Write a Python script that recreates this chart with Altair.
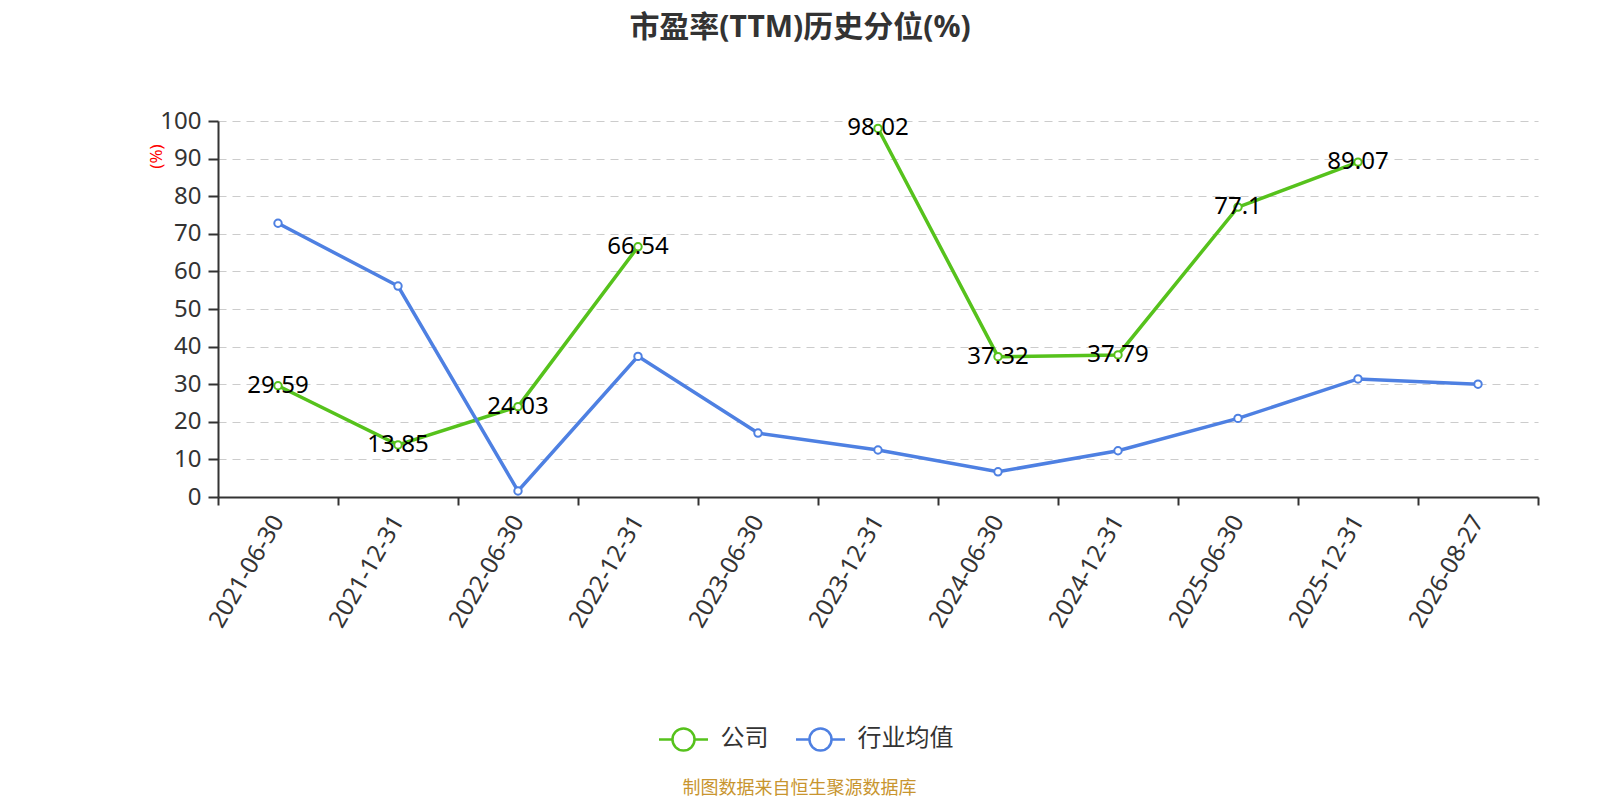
import altair as alt
import pandas as pd

dates = ["2021-06-30", "2021-12-31", "2022-06-30", "2022-12-31", "2023-06-30",
         "2023-12-31", "2024-06-30", "2024-12-31", "2025-06-30", "2025-12-31",
         "2026-08-27"]
company = [29.59, 13.85, 24.03, 66.54, None, 98.02, 37.32, 37.79, 77.1, 89.07, None]
industry = [72.8, 56.1, 1.6, 37.4, 17.0, 12.5, 6.7, 12.3, 20.9, 31.4, 30.0]
series_names = ["公司", "行业均值"]
colors = ["#56C21C", "#4E80E2"]
title_text = "市盈率(TTM)历史分位(%)"
source_text = "制图数据来自恒生聚源数据库"
y_ticks = [0, 10, 20, 30, 40, 50, 60, 70, 80, 90, 100]

rows = []
for d, c, i in zip(dates, company, industry):
    rows.append({"date": d, "series": series_names[0], "value": c})
    rows.append({"date": d, "series": series_names[1], "value": i})
df = pd.DataFrame(rows)

FONT = "Noto Sans, Noto Sans CJK SC, sans-serif"
SYMBOL = ("M-1,0L-0.45,0M0.45,0L1,0"
          "M-0.45,0A0.45,0.45 0 1,1 0.45,0A0.45,0.45 0 1,1 -0.45,0Z")

legend = alt.Legend(
    title=None, orient="none", direction="horizontal",
    legendX=439.5, legendY=592,
    symbolType=SYMBOL, symbolSize=2401, symbolStrokeWidth=2.5,
    symbolFillColor="white",
    labelFontSize=24, labelFont=FONT, labelColor="#333333",
    labelOffset=11, columnPadding=22, padding=0,
)

color_scale = alt.Scale(domain=series_names, range=colors)

x_enc = alt.X(
    "date:N", sort=dates,
    scale=alt.Scale(type="band", domain=dates, paddingInner=0, paddingOuter=0),
    axis=alt.Axis(
        title=None, tickBand="extent", labelAngle=-60, labelAlign="right",
        labelBaseline="middle", labelPadding=12, tickSize=8, labelFontSize=24,
        labelFont=FONT, labelColor="#333333", domainColor="#333333",
        tickColor="#333333", domainWidth=2, tickWidth=2, grid=False,
    ),
)
y_enc = alt.Y(
    "value:Q",
    scale=alt.Scale(domain=[0, 100], nice=False, zero=True),
    axis=alt.Axis(
        title="(%)", titleColor="red", titleFontSize=17, titleFont=FONT,
        titleFontWeight="normal", titleAngle=-90, titleX=-62, titleY=35,
        titleAlign="center", titleBaseline="middle",
        values=y_ticks, tickSize=10, labelPadding=7, labelFontSize=24,
        labelFont=FONT, labelColor="#333333", domainColor="#333333",
        tickColor="#333333", domainWidth=2, tickWidth=2,
        grid=True, gridColor="#cccccc", gridDash=[8, 6], gridWidth=1.2,
    ),
)

base = alt.Chart(df)

lines = base.mark_line(strokeWidth=3.5, invalid="break-paths-show-domains").encode(
    x=x_enc, y=y_enc,
    color=alt.Color("series:N", scale=color_scale, legend=legend),
    order=alt.Order("series:N", sort="descending"),
)

points = base.mark_point(
    shape="circle", filled=False, fill="white", size=55, strokeWidth=2, opacity=1
).transform_filter("isValid(datum.value)").encode(
    x=x_enc, y=y_enc,
    color=alt.Color("series:N", scale=color_scale, legend=legend),
)

labels = base.mark_text(
    fontSize=24, font=FONT, color="black", align="center", baseline="middle"
).transform_filter(
    f"datum.series == '{series_names[0]}' && isValid(datum.value)"
).encode(
    x=x_enc, y=y_enc,
    text=alt.Text("value:Q"),
)

source = alt.Chart(pd.DataFrame({"t": [source_text]})).mark_text(
    fontSize=18, font=FONT, color="#C8952F", align="center", baseline="middle"
).encode(
    text="t:N", x=alt.value(581.5), y=alt.value(668),
)

chart = alt.layer(lines, points, labels, source).properties(
    width=1320, height=376,
    title=alt.Title(
        title_text, fontSize=30, font=FONT, fontWeight="bold", color="#333333",
        anchor="middle", dx=-78, offset=66,
    ),
    padding={"left": 210, "top": 113, "right": 50, "bottom": 302},
    autosize=alt.AutoSizeParams(type="none"),
).configure_view(stroke=None)

chart.save("out.html", embed_options={"renderer": "svg", "actions": False})
